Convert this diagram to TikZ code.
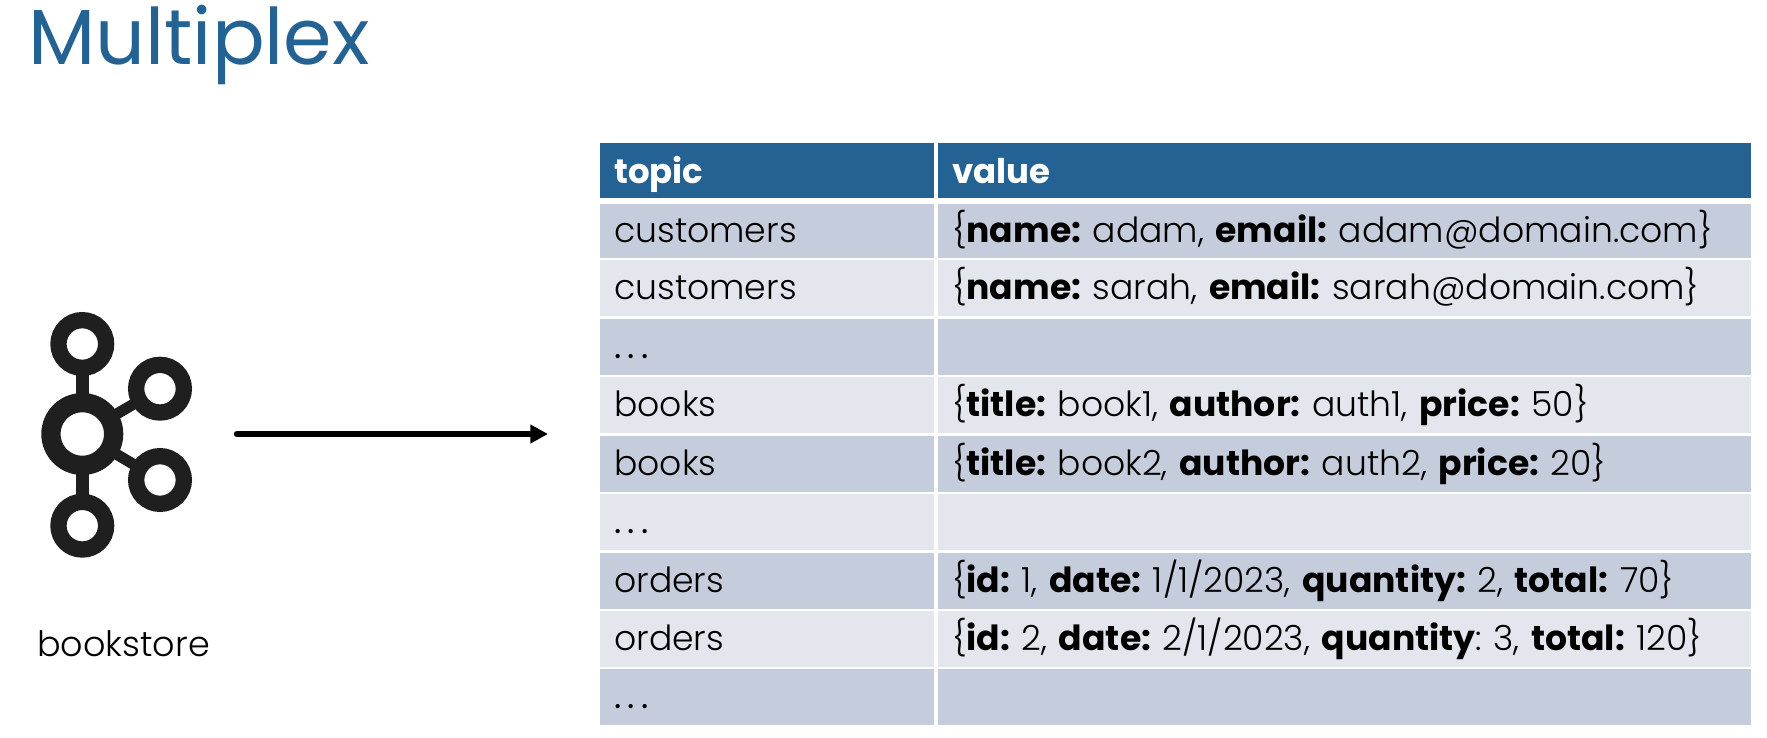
\documentclass[tikz,border=0pt]{standalone}
\usepackage{fontspec}
\setmainfont{Poppins Light}[BoldFont={Poppins Bold}]
\newfontfamily\plainfont{Poppins}
\usetikzlibrary{arrows.meta}
\definecolor{headblue}{RGB}{36,98,148}
\definecolor{rowdark}{RGB}{197,204,219}
\definecolor{rowlight}{RGB}{227,230,237}
\newcommand{\rowdots}{{\plainfont\addfontfeature{LetterSpace=18}...}}
\tikzset{
    ring/.style={circle, draw=black!88, outer sep=0pt, inner sep=0pt},
    hub/.style={ring, line width=19.3pt, minimum size=62.7pt},
    sat/.style={ring, line width=16.3pt, minimum size=47.7pt},
    link/.style={draw=black!88, line width=13pt},
    cell/.style={anchor=north west, inner xsep=14pt, inner ysep=0pt, outer sep=0pt, align=left,
        text height=29.5pt, text depth=6.5pt, minimum height=56.4pt, font=\fontsize{34.6}{36}\selectfont\frenchspacing},
    tcol/.style={cell, text width=306pt},
    vcol/.style={cell, text width=784.4pt},
    odd/.style={fill=rowdark},
    even/.style={fill=rowlight},
    head/.style={fill=headblue, text=white, font=\fontsize{34}{36}\selectfont\bfseries, minimum height=54.4pt,
        text height=31.5pt, text depth=4.5pt}
}
\begin{document}
\begin{tikzpicture}[x=1pt, y=-1pt]
    \useasboundingbox (0, 0) rectangle (1767, 738);

    \node[anchor=base west, inner sep=0pt, text=headblue, font=\plainfont\fontsize{78}{90}\selectfont] (title) at (28, 65) {Multiplex};

    % logo
    \node[hub] (core) at (82.3, 434) {};
    \node[sat] (north) at (82.3, 344) {};
    \node[sat] (upper) at (160, 388.7) {};
    \node[sat] (lower) at (160, 480) {};
    \node[sat] (south) at (82.3, 525.7) {};
    \draw[link] (core) -- (north);
    \draw[link] (core) -- (south);
    \draw[link, line width=11pt] (core) -- (upper);
    \draw[link, line width=11pt] (core) -- (lower);

    \node[anchor=base west, inner sep=0pt, font=\fontsize{35}{36}\selectfont] (store) at (37, 656) {bookstore};

    % table
    \node[tcol, head] (topic) at (600.3, 143.3) {topic};
    \node[vcol, head] (value) at (938.3, 143.3) {value};

    \node[tcol, odd, minimum height=54.4pt] (t1) at (600.3, 204) {customers};
    \node[vcol, odd, minimum height=54.4pt] (v1) at (938.3, 204) {\{\textbf{name:} adam, \textbf{email:} adam@domain.com\}};
    \node[tcol, even] (t2) at (600.3, 260) {customers};
    \node[vcol, even] (v2) at (938.3, 260) {\{\textbf{name:} sarah, \textbf{email:} sarah@domain.com\}};
    \node[tcol, odd] (t3) at (600.3, 319) {\rowdots};
    \node[vcol, odd] (v3) at (938.3, 319) {};
    \node[tcol, even] (t4) at (600.3, 376.7) {books};
    \node[vcol, even] (v4) at (938.3, 376.7) {\{\textbf{title:} book1, \textbf{author:} auth1, \textbf{price:} 50\}};
    \node[tcol, odd] (t5) at (600.3, 435.5) {books};
    \node[vcol, odd] (v5) at (938.3, 435.5) {\{\textbf{title:} book2, \textbf{author:} auth2, \textbf{price:} 20\}};
    \node[tcol, even] (t6) at (600.3, 493.5) {\rowdots};
    \node[vcol, even] (v6) at (938.3, 493.5) {};
    \node[tcol, odd] (t7) at (600.3, 552.7) {orders};
    \node[vcol, odd] (v7) at (938.3, 552.7) {\{\textbf{id:} 1, \textbf{date:} 1/1/2023, \textbf{quantity:} 2, \textbf{total:} 70\}};
    \node[tcol, even] (t8) at (600.3, 610.7) {orders};
    \node[vcol, even] (v8) at (938.3, 610.7) {\{\textbf{id:} 2, \textbf{date:} 2/1/2023, \textbf{quantity}: 3, \textbf{total:} 120\}};
    \node[tcol, odd] (t9) at (600.3, 669) {\rowdots};
    \node[vcol, odd] (v9) at (938.3, 669) {};

    \coordinate (from) at (237, 434);
    \coordinate (to) at (548, 434);
    \draw[line width=6.4pt, line cap=round, -{Triangle[length=17.7pt, width=18pt]}] (from) -- (to);
\end{tikzpicture}
\end{document}
